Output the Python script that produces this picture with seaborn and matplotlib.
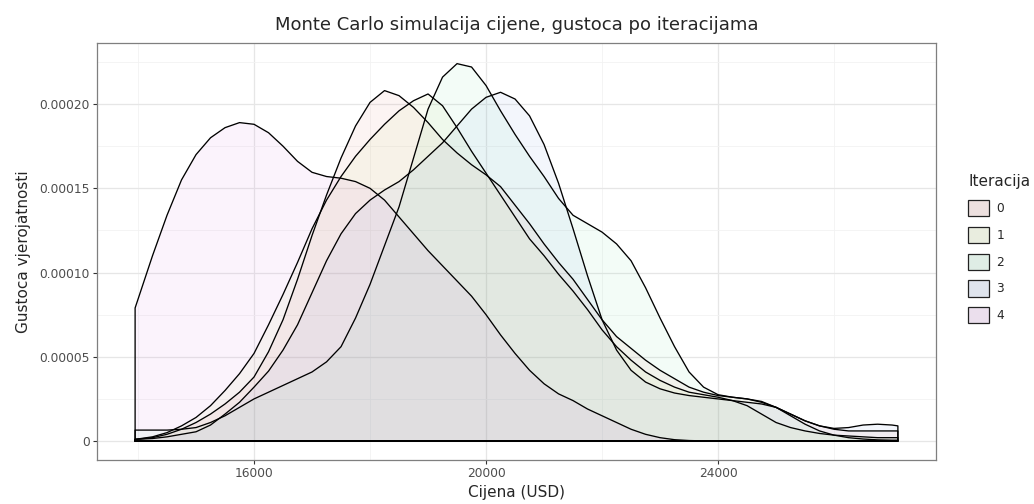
import numpy as np
import pandas as pd
import matplotlib
matplotlib.use('Agg')
import matplotlib.pyplot as plt
from matplotlib.patches import Patch
import seaborn as sns

# cijene (USD) na kojima je ocitana gustoca
cijena = [13950, 14250, 14500, 14750, 15000, 15250, 15500, 15750, 16000, 16250,
          16500, 16750, 17000, 17250, 17500, 17750, 18000, 18250, 18500, 18750,
          19000, 19250, 19500, 19750, 20000, 20250, 20500, 20750, 21000, 21250,
          21500, 21750, 22000, 22250, 22500, 22750, 23000, 23250, 23500, 23750,
          24000, 24250, 24500, 24750, 25000, 25250, 25500, 25750, 26000, 26250,
          26500, 26750, 27000, 27100]

# gustoce u jedinicama 1e-5
gustoca_0 = [0.1, 0.2, 0.4, 0.7, 1.1, 1.6, 2.2, 2.9, 3.8, 5.3,
             7.2, 9.6, 12.2, 14.6, 16.8, 18.7, 20.1, 20.8, 20.5, 19.8,
             18.9, 17.9, 17.1, 16.4, 15.8, 15.1, 14.0, 12.9, 11.7, 10.6,
             9.6, 8.4, 7.2, 6.2, 5.5, 4.8, 4.2, 3.7, 3.2, 2.9,
             2.7, 2.6, 2.5, 2.3, 2.0, 1.6, 1.2, 0.9, 0.7, 0.6,
             0.6, 0.6, 0.6, 0.6]
gustoca_1 = [0.1, 0.25, 0.5, 0.9, 1.4, 2.1, 3.0, 4.0, 5.2, 6.9,
             8.7, 10.6, 12.6, 14.3, 15.7, 16.9, 17.9, 18.8, 19.6, 20.2,
             20.6, 19.9, 18.6, 17.2, 15.9, 14.6, 13.3, 12.0, 11.0, 9.9,
             8.9, 7.8, 6.6, 5.6, 4.8, 4.1, 3.6, 3.2, 2.9, 2.75,
             2.6, 2.4, 2.1, 1.6, 1.1, 0.8, 0.6, 0.45, 0.35, 0.3,
             0.25, 0.2, 0.2, 0.2]
gustoca_2 = [0.65, 0.65, 0.65, 0.7, 0.8, 1.1, 1.5, 2.0, 2.5, 2.9,
             3.3, 3.7, 4.1, 4.7, 5.6, 7.3, 9.3, 11.6, 13.9, 16.8,
             19.7, 21.6, 22.4, 22.2, 21.1, 19.6, 18.2, 16.9, 15.7, 14.4,
             13.4, 12.9, 12.4, 11.7, 10.7, 9.1, 7.3, 5.6, 4.1, 3.2,
             2.75, 2.6, 2.5, 2.35, 2.0, 1.5, 1.0, 0.6, 0.35, 0.2,
             0.12, 0.07, 0.05, 0.05]
gustoca_3 = [0.1, 0.15, 0.25, 0.4, 0.55, 0.95, 1.6, 2.3, 3.2, 4.15,
             5.4, 6.9, 8.8, 10.7, 12.3, 13.5, 14.3, 14.9, 15.4, 16.1,
             16.9, 17.7, 18.7, 19.7, 20.4, 20.7, 20.3, 19.3, 17.6, 15.3,
             12.6, 9.8, 7.2, 5.4, 4.2, 3.5, 3.1, 2.85, 2.7, 2.6,
             2.5, 2.4, 2.3, 2.2, 2.0, 1.6, 1.2, 0.9, 0.75, 0.8,
             0.95, 1.0, 0.95, 0.9]
gustoca_4 = [7.9, 11.0, 13.4, 15.5, 17.0, 18.0, 18.6, 18.9, 18.8, 18.3,
             17.5, 16.6, 15.95, 15.7, 15.6, 15.4, 15.0, 14.3, 13.3, 12.3,
             11.3, 10.4, 9.5, 8.6, 7.5, 6.3, 5.2, 4.2, 3.4, 2.8,
             2.4, 1.9, 1.5, 1.1, 0.7, 0.4, 0.2, 0.08, 0.03, 0.01,
             0.0, 0.0, 0.0, 0.0, 0.0, 0.0, 0.0, 0.0, 0.0, 0.0,
             0.0, 0.0, 0.0, 0.0]

iteracije = ['0', '1', '2', '3', '4']
krivulje = [gustoca_0, gustoca_1, gustoca_2, gustoca_3, gustoca_4]

x_ticks = [16000, 20000, 24000]
x_labels = ['16000', '20000', '24000']
y_ticks = [0, 0.00005, 0.00010, 0.00015, 0.00020]
y_labels = ['0', '0.00005', '0.00010', '0.00015', '0.00020']

rows = []
obris = []
for it, vals in zip(iteracije, krivulje):
    obris.append((it, cijena[0], 0.0))
    for xv, yv in zip(cijena, vals):
        rows.append((it, xv, yv * 1e-5))
        obris.append((it, xv, yv * 1e-5))
    obris.append((it, cijena[-1], 0.0))
    obris.append((it, cijena[0], 0.0))
df = pd.DataFrame(rows, columns=['iteracija', 'cijena', 'gustoca'])
df_obris = pd.DataFrame(obris, columns=['iteracija', 'cijena', 'gustoca'])

sns.set_style('white')
plt.rcParams['font.family'] = ['DejaVu Sans']

# hue paleta kao u plotnine (hls)
boje = sns.hls_palette(5, h=0.01, l=0.6, s=0.65)

fig, ax = plt.subplots(figsize=(10.34, 5.04), dpi=100)
fig.subplots_adjust(left=97/1034, right=936/1034, top=1-43/504, bottom=1-460/504)

for i, it in enumerate(iteracije):
    d = df[df['iteracija'] == it]
    ax.fill_between(d['cijena'], d['gustoca'], 0, color=boje[i], alpha=0.065, lw=0, zorder=2)

sns.lineplot(data=df_obris, x='cijena', y='gustoca', units='iteracija', estimator=None,
             sort=False, color='black', lw=0.95, ax=ax, legend=False, zorder=3)

ax.set_xlim(13293, 27757)
ax.set_ylim(-1.125e-5, 2.3625e-4)
ax.set_xticks(x_ticks)
ax.set_xticklabels(x_labels)
ax.set_xticks([14000, 18000, 22000, 26000], minor=True)
ax.set_yticks(y_ticks)
ax.set_yticklabels(y_labels)
ax.set_yticks([0.000025, 0.000075, 0.000125, 0.000175, 0.000225], minor=True)

ax.set_axisbelow(True)
ax.grid(which='major', color='#e6e6e6', lw=0.9)
ax.grid(which='minor', color='#f2f2f2', lw=0.6)
ax.tick_params(which='major', length=3, width=0.8, color='#333333', labelcolor='#4d4d4d',
               labelsize=8.8, pad=2, bottom=True, left=True)
ax.tick_params(which='minor', length=0)
for s in ax.spines.values():
    s.set_color('#7f7f7f')
    s.set_linewidth(0.9)

ax.set_title('Monte Carlo simulacija cijene, gustoca po iteracijama', fontsize=13, pad=9)
ax.set_xlabel('Cijena (USD)', fontsize=11, labelpad=4)
ax.set_ylabel('Gustoca vjerojatnosti', fontsize=11, labelpad=6)

# kljucevi legende: blijeda boja na sivkastoj podlozi
kljucevi = [tuple(0.9 * 0.935 + 0.1 * c for c in boje[i]) for i in range(5)]
handles = [Patch(facecolor=kljucevi[i], edgecolor='#222222', lw=0.9) for i in range(5)]
leg = fig.legend(handles, iteracije, title='Iteracija', loc='upper left',
                 bbox_to_anchor=(962/1034, 1-168/504), frameon=False, fontsize=8.8,
                 title_fontsize=11, handlelength=1.7, handleheight=1.65,
                 labelspacing=0.88, handletextpad=0.6, borderpad=0, alignment='left')

fig.savefig('out.png', dpi=100)
